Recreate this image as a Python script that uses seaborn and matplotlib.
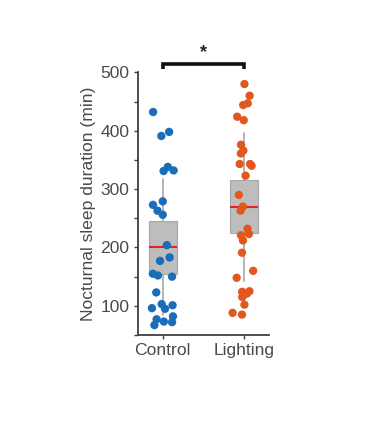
import numpy as np
import pandas as pd
import matplotlib
matplotlib.use("Agg")
import matplotlib.pyplot as plt
import seaborn as sns

# ---- data ----
categories = ["Control", "Lighting"]
control_vals = [432, 398, 391, 338, 332, 331, 279, 273, 263, 256, 204, 183, 177,
                155, 152, 150, 123, 103, 101, 96, 95, 82, 77, 73, 72, 67]
lighting_vals = [480, 460, 447, 444, 424, 418, 376, 366, 361, 340, 343, 343, 323,
                 290, 270, 263, 232, 221, 212, 223, 191, 160, 148, 125, 124, 115,
                 121, 102, 85, 88]
box_q1 = [155, 225]
box_med = [200, 270]
box_q3 = [246, 315]
whisker_lo = [85, 142]
whisker_hi = [317, 396]
colors = ["#1a6db8", "#e2571e"]
sig_label = "*"

sns.set_theme(style="white")
plt.rcParams["font.family"] = ["Liberation Sans", "DejaVu Sans"]

df = pd.DataFrame({
    "group": [categories[0]] * len(control_vals) + [categories[1]] * len(lighting_vals),
    "value": control_vals + lighting_vals,
})

fig = plt.figure(figsize=(3.79, 4.32), dpi=100)
ax = fig.add_axes([0.363, 0.2245, 0.347, 0.608])

stats = []
for i in range(len(categories)):
    stats.append(dict(med=box_med[i], q1=box_q1[i], q3=box_q3[i],
                      whislo=whisker_lo[i], whishi=whisker_hi[i], fliers=[]))
ax.bxp(stats, positions=[0, 1], widths=0.34, showcaps=False, patch_artist=True,
       boxprops=dict(facecolor="#bdbdbd", edgecolor="#a8a8a8", linewidth=0.8),
       whiskerprops=dict(color="#a8a8a8", linewidth=1.2),
       medianprops=dict(color="#e3202b", linewidth=1.5),
       manage_ticks=False, zorder=1)

np.random.seed(7)
sns.stripplot(data=df, x="group", y="value", hue="group", palette=colors,
              order=categories, jitter=0.14, size=6.0, linewidth=0,
              legend=False, ax=ax, zorder=3)

ax.set_xlim(-0.31, 1.31)
ax.set_ylim(50, 500)
ax.set_yticks(np.arange(50, 501, 50), minor=False)
ax.set_yticklabels([str(v) if v % 100 == 0 else "" for v in np.arange(50, 501, 50)])
ax.set_xticks([0, 1])
ax.set_xticklabels(categories)
ax.set_xlabel("")
ax.set_ylabel("Nocturnal sleep duration (min)", fontsize=12.6, color="#4a4a4a", labelpad=3)

for s in ["top", "right"]:
    ax.spines[s].set_visible(False)
for s in ["left", "bottom"]:
    ax.spines[s].set_color("#404040")
    ax.spines[s].set_linewidth(1.3)
ax.tick_params(axis="both", direction="out", length=3, width=1.0, color="#404040",
               labelsize=12.6, labelcolor="#4a4a4a", bottom=True, left=True, pad=3)

# significance bracket
ax.plot([0, 0, 1, 1], [506, 514, 514, 506], color="#111111", linewidth=2.6,
        clip_on=False, solid_capstyle="butt", solid_joinstyle="miter")
ax.text(0.5, 519, sig_label, ha="center", va="bottom", fontsize=13,
        fontweight="bold", color="#222222", clip_on=False)

fig.savefig("out.png", dpi=100)
